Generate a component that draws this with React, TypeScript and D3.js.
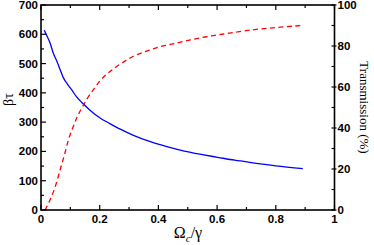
import React from "react";
import * as d3 from "d3";

const blueX = [0.011, 0.02, 0.031, 0.042, 0.054, 0.065, 0.076, 0.09, 0.105, 0.12, 0.139, 0.167, 0.2, 0.235, 0.27, 0.315, 0.37, 0.429, 0.488, 0.55, 0.602, 0.66, 0.716, 0.8, 0.892];
const blueY = [614, 595, 570, 535, 508, 480, 452, 430, 410, 388, 367, 341, 315, 295, 276, 255, 234, 216, 201, 189, 180, 170, 162, 151, 141];
const redX = [0.014, 0.031, 0.05, 0.065, 0.08, 0.093, 0.108, 0.122, 0.14, 0.156, 0.18, 0.201, 0.23, 0.258, 0.29, 0.315, 0.36, 0.406, 0.45, 0.509, 0.55, 0.602, 0.66, 0.716, 0.8, 0.892];
const redY = [0, 5, 12, 19.5, 27, 34, 40, 45, 50, 54, 59, 63, 67, 70, 73, 75, 77.5, 79.7, 81, 83, 84.2, 85.4, 86.7, 87.8, 89, 90];

const xTicks = [0, 0.2, 0.4, 0.6, 0.8, 1];
const xTickLabels = ["0", "0.2", "0.4", "0.6", "0.8", "1"];
const xMinor = [0.1, 0.3, 0.5, 0.7, 0.9];
const yLTicks = [0, 100, 200, 300, 400, 500, 600, 700];
const yLMinor = [50, 150, 250, 350, 450, 550, 650];
const yRTicks = [0, 20, 40, 60, 80, 100];
const yRMinor = [10, 30, 50, 70, 90];

export default function App() {
  const L = 41, R = 334.5, T = 5, B = 210;
  const x = d3.scaleLinear().domain([0, 1]).range([L, R]);
  const yL = d3.scaleLinear().domain([0, 700]).range([B, T]);
  const yR = d3.scaleLinear().domain([0, 100]).range([B, T]);

  const blueLine = d3.line<number>().x((_, i) => x(blueX[i])).y((d) => yL(d)).curve(d3.curveMonotoneX)(blueY) || "";
  const redLine = d3.line<number>().x((_, i) => x(redX[i])).y((d) => yR(d)).curve(d3.curveMonotoneX)(redY) || "";

  const tickFont = { fontFamily: "Liberation Sans, Arial, sans-serif", fontWeight: 700, fontSize: 11.5 } as const;
  const titleFont = { fontFamily: "Liberation Serif, Times New Roman, serif", fontSize: 13 } as const;

  return (
    <svg width={374} height={245} style={{ position: "absolute", left: 0, top: 0, background: "#fff" }}>
      <path d={blueLine} fill="none" stroke="#0000ff" strokeWidth={1.3} />
      <path d={redLine} fill="none" stroke="#ff0000" strokeWidth={1.3} strokeDasharray="5,3.5" />
      <rect x={L} y={T} width={R - L} height={B - T} fill="none" stroke="#000" strokeWidth={1.6} />
      {xTicks.map((t) => (
        <g key={"xt" + t}>
          <line x1={x(t)} x2={x(t)} y1={B} y2={B - 5} stroke="#000" strokeWidth={1.2} />
          <line x1={x(t)} x2={x(t)} y1={T} y2={T + 5} stroke="#000" strokeWidth={1.2} />
        </g>
      ))}
      {xMinor.map((t) => (
        <g key={"xm" + t}>
          <line x1={x(t)} x2={x(t)} y1={B} y2={B - 3} stroke="#000" strokeWidth={1.2} />
          <line x1={x(t)} x2={x(t)} y1={T} y2={T + 3} stroke="#000" strokeWidth={1.2} />
        </g>
      ))}
      {xTicks.map((t, i) => (
        <text key={"xl" + t} x={x(t)} y={B + 13} textAnchor="middle" {...tickFont}>{xTickLabels[i]}</text>
      ))}
      {yLTicks.map((t) => (
        <line key={"ylt" + t} x1={L} x2={L + 5} y1={yL(t)} y2={yL(t)} stroke="#000" strokeWidth={1.2} />
      ))}
      {yLMinor.map((t) => (
        <line key={"ylm" + t} x1={L} x2={L + 3} y1={yL(t)} y2={yL(t)} stroke="#000" strokeWidth={1.2} />
      ))}
      {yLTicks.map((t) => (
        <text key={"yll" + t} x={L - 3} y={yL(t) + 4} textAnchor="end" {...tickFont}>{t}</text>
      ))}
      {yRTicks.map((t) => (
        <line key={"yrt" + t} x1={R - 3} x2={R + 2} y1={yR(t)} y2={yR(t)} stroke="#000" strokeWidth={1.2} />
      ))}
      {yRMinor.map((t) => (
        <line key={"yrm" + t} x1={R - 3} x2={R} y1={yR(t)} y2={yR(t)} stroke="#000" strokeWidth={1.2} />
      ))}
      {yRTicks.map((t) => (
        <text key={"yrl" + t} x={R + 3} y={yR(t) + 4} textAnchor="start" {...tickFont}>{t}</text>
      ))}
      <text transform={`translate(13,${(T + B) / 2 - 8}) rotate(-90)`} textAnchor="middle" {...titleFont} fontSize={14}>βτ</text>
      <text transform={`translate(360,${(T + B) / 2}) rotate(90)`} textAnchor="middle" {...titleFont}>Transmission (%)</text>
      <text x={188} y={238} textAnchor="middle" {...titleFont} fontSize={16}>
        Ω<tspan fontSize={11} fontStyle="italic" dy={4}>c</tspan><tspan dy={-4}>/γ</tspan>
      </text>
    </svg>
  );
}
